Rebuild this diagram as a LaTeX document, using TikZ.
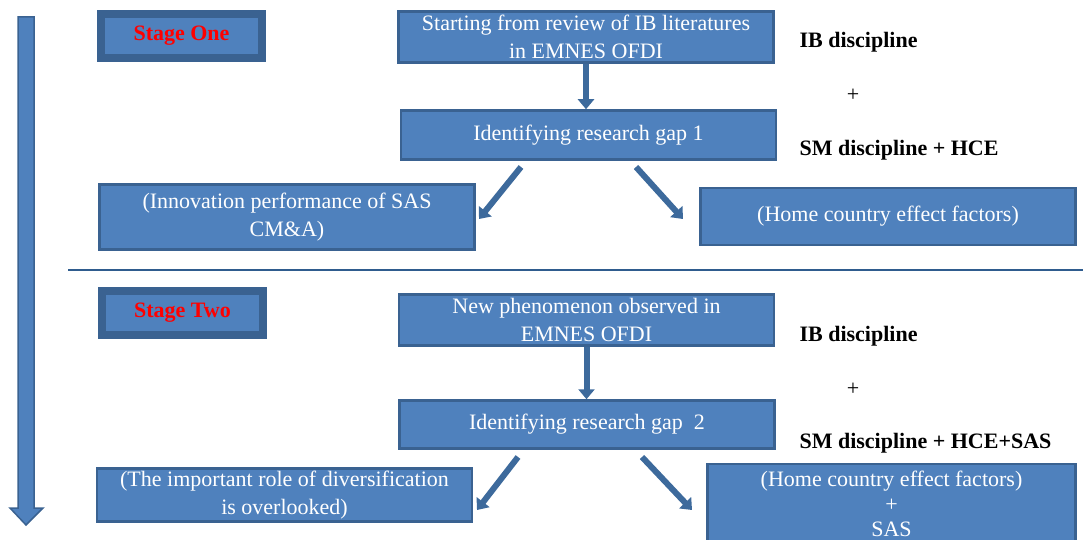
\documentclass[tikz,border=0pt]{standalone}
\usepackage{fontspec}
\setmainfont{Liberation Serif}
\usetikzlibrary{arrows.meta}
\definecolor{boxfill}{HTML}{4F81BD}
\definecolor{boxline}{HTML}{3A6291}
\definecolor{arrowblue}{HTML}{3D6A9C}
\definecolor{stagered}{HTML}{FF0000}
\definecolor{sepblue}{HTML}{2F5C8E}

\begin{document}
\begin{tikzpicture}[x=1pt, y=-1pt, font=\fontsize{22}{28}\selectfont]
        \tikzstyle{blk}=[draw=boxline, line width=2.5pt, fill=boxfill, text=white, align=center, inner sep=2pt, minimum width=375pt]
        \tikzstyle{stg}=[draw=boxline, line width=8pt, fill=boxfill, text=stagered, font=\fontsize{22}{28}\selectfont\bfseries, minimum width=161pt, minimum height=44pt]
        \tikzstyle{lbl}=[anchor=west, font=\fontsize{22}{28}\selectfont\bfseries]
        \tikzstyle{flow}=[arrowblue, line width=6pt, -{Triangle[width=16pt, length=10pt]}]

        \clip (0,0) rectangle (1083,540);

        % time line on the left
        \filldraw[fill=boxfill, draw=boxline, line width=1.5pt]
            (18,17) -- (34,17) -- (34,508) -- (43,508) -- (26,525) -- (10,508) -- (18,508) -- cycle;

        % stage one
        \node (s1) [stg] at (181.5,36) {Stage One};
        \node (a1) [blk, minimum height=51pt] at (586,37) {Starting from review of IB literatures\\in EMNES OFDI};
        \node (a2) [blk, minimum height=49pt] at (588.5,135) {Identifying research gap 1};
        \node (a3) [blk, minimum height=65pt] at (287,217) {(Innovation performance of SAS\\CM\&A)};
        \node (a4) [blk, minimum height=57pt] at (888,216.5) {(Home country effect factors)};
        \node (ib1) [lbl] at (796,42) {IB discipline};
        \node (p1) at (853,95) {+};
        \node (sm1) [lbl] at (796,150) {SM discipline + HCE};

        \coordinate (a2l) at (521,167);
        \coordinate (a3t) at (479,219);
        \coordinate (a2r) at (636,167);
        \coordinate (a4t) at (683,219);
        \draw[flow] (a1.south) -- (a1.south |- a2.north);
        \draw[flow] (a2l) -- (a3t);
        \draw[flow] (a2r) -- (a4t);

        % divider
        \coordinate (sepl) at (68,270);
        \coordinate (sepr) at (1083,270);
        \draw[sepblue, line width=1.3pt] (sepl) -- (sepr);

        % stage two
        \node (s2) [stg] at (182.5,312.5) {Stage Two};
        \node (b1) [blk, minimum height=51pt] at (586.5,320) {New phenomenon observed in\\EMNES OFDI};
        \node (b2) [blk, minimum height=48pt] at (587,424.5) {Identifying research gap\ \ 2};
        \node (b3) [blk, minimum height=53pt] at (284.5,495) {(The important role of diversification\\is overlooked)};
        \node (b4) [blk, minimum width=368pt, minimum height=80pt, inner sep=0pt, text depth=0pt,
                    font=\fontsize{22}{25}\selectfont] at (891.5,504) {(Home country effect factors)\\+\\SAS};
        \node (ib2) [lbl] at (796,336) {IB discipline};
        \node (p2) at (853,389) {+};
        \node (sm2) [lbl] at (796,443) {SM discipline + HCE+SAS};

        \coordinate (b2l) at (518,457);
        \coordinate (b3t) at (477,510);
        \coordinate (b2r) at (642,457);
        \coordinate (b4t) at (692,510);
        \draw[flow] (b1.south) -- (b1.south |- b2.north);
        \draw[flow] (b2l) -- (b3t);
        \draw[flow] (b2r) -- (b4t);

    \end{tikzpicture}
\end{document}
